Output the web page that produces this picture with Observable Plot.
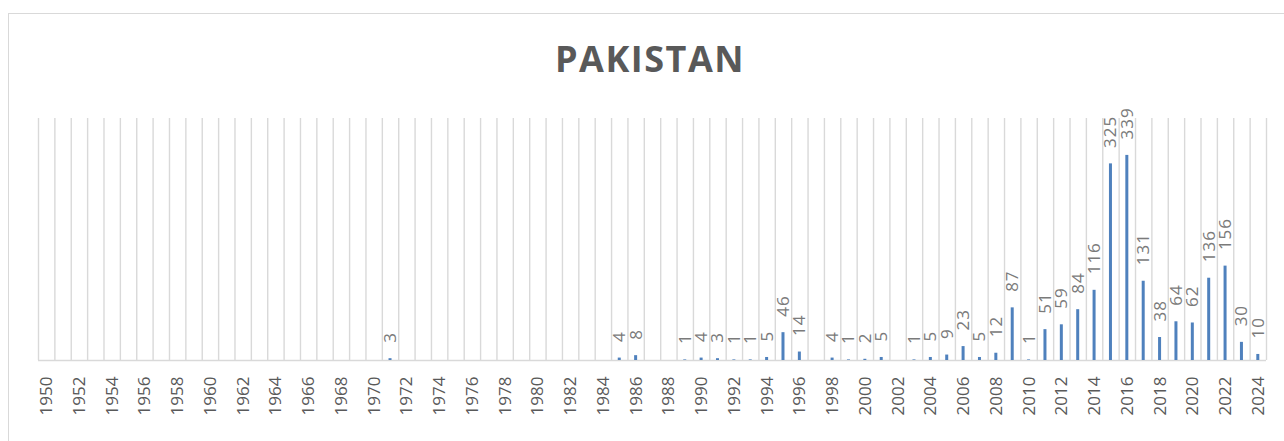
<!DOCTYPE html>
<html>
<head>
<meta charset="utf-8">
<script src="https://cdn.jsdelivr.net/npm/d3@7"></script>
<script src="https://cdn.jsdelivr.net/npm/@observablehq/plot@0.6"></script>
<style>
  html, body { margin: 0; padding: 0; background: #fff; width: 1284px; height: 441px; overflow: hidden; }
  #frame { position: absolute; left: 8px; top: 13px; width: 1300px; height: 460px; border: 1px solid #d9d9d9; box-sizing: border-box; }
  #title { position: absolute; left: 0; top: 41px; width: 1300px; text-align: center; font-family: "Open Sans", sans-serif; font-weight: bold; font-size: 36px; line-height: 36px; color: #595959; letter-spacing: 1.5px; }
  #chart { position: absolute; left: 0; top: 100px; }
  #chart .vlabels text { letter-spacing: 1px; }
</style>
</head>
<body>
<div id="frame"></div>
<div id="title">PAKISTAN</div>
<div id="chart"></div>
<script>
// Categories: every year 1950–2024
const years = d3.range(1950, 2025).map(String);
// Years that have a value
const dataYears = ["1971","1985","1986","1989","1990","1991","1992","1993","1994","1995","1996","1998","1999","2000","2001","2003","2004","2005","2006","2007","2008","2009","2010","2011","2012","2013","2014","2015","2016","2017","2018","2019","2020","2021","2022","2023","2024"];
const dataValues = [3,4,8,1,4,3,1,1,5,46,14,4,1,2,5,1,5,9,23,5,12,87,1,51,59,84,116,325,339,131,38,64,62,136,156,30,10];
// Tick labels shown on the axis (every second year)
const tickYears = years.filter((d, i) => i % 2 === 0);

const data = dataYears.map((y, i) => ({year: y, value: dataValues[i]}));

const W = 1284, H = 341, mL = 38, mR = 18, mT = 18, mB = 81;
const bw = (W - mL - mR) / years.length;

const chart = Plot.plot({
  width: W,
  height: H,
  marginLeft: mL,
  marginRight: mR,
  marginTop: mT,
  marginBottom: mB,
  style: {background: "transparent", overflow: "visible"},
  x: {type: "band", domain: years, padding: 0, round: false, axis: null, label: null},
  y: {domain: [0, 400], axis: null},
  marks: [
    Plot.ruleX(years, {x: d => d, dx: -bw / 2, y1: 0, y2: 400, stroke: "#d9d9d9", strokeWidth: 1.4}),
    Plot.ruleX([years[years.length - 1]], {x: d => d, dx: bw / 2, y1: 0, y2: 400, stroke: "#d9d9d9", strokeWidth: 1.4}),
    Plot.ruleY([0], {stroke: "#d9d9d9", strokeWidth: 1.4}),
    Plot.barY(data, {x: "year", y: "value", fill: "#4f81bd", insetLeft: (bw - 3) / 2, insetRight: (bw - 3) / 2}),
    Plot.text(data, {x: "year", y: "value", text: d => String(d.value), rotate: -90, textAnchor: "start", lineAnchor: "middle", dy: -16, fill: "#7a7a7a", fontSize: 17, fontFamily: "Open Sans", className: "vlabels"}),
    Plot.axisX({ticks: tickYears, label: null, tickRotate: -90, tickSize: 0, tickPadding: 16, fontSize: 17, fontFamily: "Open Sans", color: "#595959", style: {letterSpacing: "3px"}})
  ]
});
document.getElementById("chart").appendChild(chart);
</script>
</body>
</html>
